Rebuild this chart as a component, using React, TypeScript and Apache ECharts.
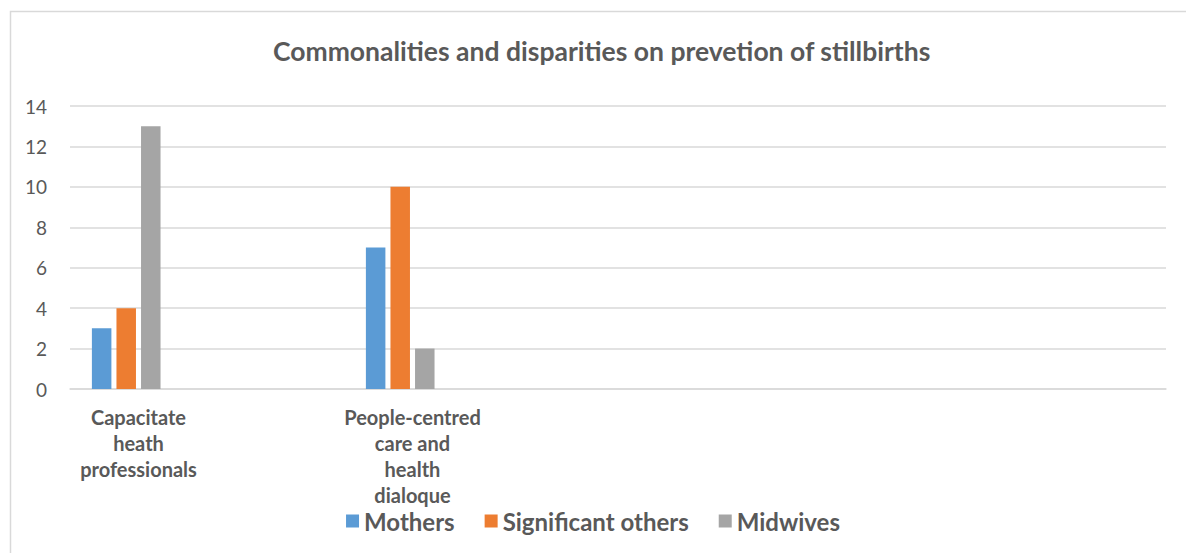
import React, { useEffect, useRef } from "react";
import * as echarts from "echarts";

const categories = [
  "Capacitate\nheath\nprofessionals",
  "",
  "People-centred\ncare and\nhealth\ndialoque",
  "",
  "",
  "",
  "",
  "",
];
const seriesNames = ["Mothers", "Significant others", "Midwives"];
const mothers = [3, null, 7, null, null, null, null, null];
const significantOthers = [4, null, 10, null, null, null, null, null];
const midwives = [13, null, 2, null, null, null, null, null];
const emptySeries = [null, null, null, null, null, null, null, null];
const yTicks = { min: 0, max: 14, interval: 2 };
const colors = ["#5B9BD5", "#ED7D31", "#A5A5A5"];

const FONT = "Lato, 'Open Sans', sans-serif";

export default function App() {
  const ref = useRef<HTMLDivElement>(null);
  useEffect(() => {
    if (!ref.current) return;
    const chart = echarts.init(ref.current, undefined, { renderer: "svg" });
    const values = [mothers, significantOthers, midwives];
    chart.setOption({
      animation: false,
      backgroundColor: "#ffffff",
      title: {
        text: "Commonalities and disparities on prevetion of stillbirths",
        left: 273,
        top: 37,
        padding: 0,
        textStyle: { fontFamily: FONT, fontWeight: "bold", fontSize: 26.5, color: "#595959" },
      },
      graphic: [
        {
          type: "rect",
          shape: { x: 10.5, y: 11.5, width: 1300, height: 700 },
          style: { fill: "none", stroke: "#d9d9d9", lineWidth: 1.5 },
          silent: true,
        },
      ],
      legend: {
        data: seriesNames,
        bottom: 15,
        left: "center",
        icon: "rect",
        itemWidth: 13,
        itemHeight: 13,
        itemGap: 30,
        textStyle: { fontFamily: FONT, fontWeight: "bold", fontSize: 24, color: "#595959" },
      },
      grid: { left: 70, right: 20, top: 106, bottom: 164 },
      xAxis: {
        type: "category",
        data: categories,
        axisLine: { lineStyle: { color: "#d9d9d9", width: 1.5 } },
        axisTick: { show: false },
        axisLabel: {
          interval: 0,
          margin: 15,
          fontFamily: FONT,
          fontWeight: "bold",
          fontSize: 20,
          lineHeight: 26,
          color: "#595959",
        },
      },
      yAxis: {
        type: "value",
        min: yTicks.min,
        max: yTicks.max,
        interval: yTicks.interval,
        axisLine: { show: false },
        axisTick: { show: false },
        splitLine: { lineStyle: { color: "#d9d9d9", width: 1.5 } },
        axisLabel: { margin: 23, fontFamily: FONT, fontSize: 19, color: "#595959" },
      },
      series: [
        ...seriesNames.map((name, i) => ({
          name,
          type: "bar",
          data: values[i],
          barWidth: 19.5,
          barGap: "26%",
          itemStyle: { color: colors[i] },
        })),
        {
          name: "",
          type: "bar",
          data: emptySeries,
          barWidth: 19.5,
          barGap: "26%",
        },
      ],
    });
    return () => chart.dispose();
  }, []);
  return (
    <div
      ref={ref}
      style={{ position: "fixed", left: 0, top: 0, width: 1186, height: 553 }}
    />
  );
}
